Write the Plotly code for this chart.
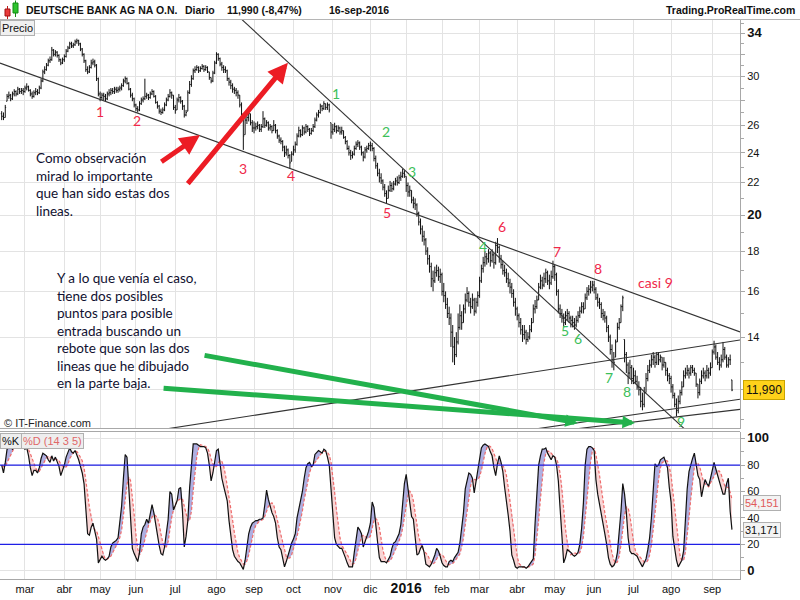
import math
import plotly.graph_objects as go

# ---------------- data ----------------
month_labels = ["feb", "mar", "abr", "may", "jun", "jul", "ago", "sep", "oct", "nov", "dic",
                "2016", "feb", "mar", "abr", "may", "jun", "jul", "ago", "sep"]

close_m = [
    [26.7, 26.6, 27.4, 28.3, 28.4, 28.1, 28.5, 28.7, 28.5, 28.9, 28.7, 28.8, 28.7],
    [29.0, 29.1, 28.8, 28.5, 28.3, 28.6, 28.7, 28.6, 29.0, 29.6, 30.4, 30.6, 31.0, 31.4, 31.5, 32.4, 32.0, 32.2, 31.9, 31.5, 31.2, 31.5],
    [31.8, 32.3, 32.6, 33.0, 32.8, 32.9, 33.2, 33.3, 33.0, 32.5, 32.0, 31.4, 30.6, 30.4, 30.8, 31.2, 31.3, 31.0, 29.8, 28.5],
    [28.2, 28.4, 28.3, 28.1, 28.5, 28.6, 28.8, 28.7, 28.9, 28.8, 28.9, 29.0, 29.2, 29.6, 29.8, 29.4, 28.9, 28.4, 28.1, 27.6],
    [27.3, 27.2, 27.7, 28.0, 28.1, 28.3, 28.4, 28.2, 28.5, 28.7, 28.3, 27.8, 27.5, 27.1, 27.0, 27.2, 27.6, 28.0, 28.3, 28.6, 28.4, 27.4],
    [27.2, 28.0, 28.2, 27.9, 27.5, 26.8, 27.0, 28.6, 29.3, 29.8, 30.5, 30.6, 30.8, 30.5, 30.7, 30.9, 30.6, 30.8, 30.4, 29.9, 29.6, 30.3, 31.2],
    [32.0, 31.6, 31.1, 30.8, 30.6, 30.5, 29.8, 29.5, 29.2, 28.9, 28.8, 28.6, 28.4, 27.6, 26.9, 25.2, 26.4, 26.6, 26.9, 26.2, 25.8],
    [25.8, 25.9, 26.0, 25.7, 25.9, 26.5, 26.0, 26.2, 25.8, 25.9, 25.6, 26.0, 25.6, 25.2, 24.9, 24.8, 24.4, 24.0, 24.2, 23.8, 23.3, 23.9],
    [24.2, 24.6, 25.2, 25.6, 25.3, 25.8, 25.5, 25.9, 25.7, 25.4, 25.6, 25.9, 26.4, 26.8, 27.0, 27.5, 27.3, 27.7, 27.4, 27.6, 27.2, 25.5],
    [25.7, 25.9, 25.6, 25.8, 25.5, 25.6, 25.1, 24.8, 24.3, 24.0, 23.8, 23.9, 24.3, 24.6, 24.7, 24.4, 24.0, 23.7, 24.2, 24.3, 24.5],
    [24.5, 24.3, 23.6, 23.1, 22.6, 22.3, 22.1, 21.7, 21.3, 21.0, 21.5, 21.8, 21.6, 21.9, 22.1, 22.0, 22.3, 22.4, 22.6, 22.5],
    [21.8, 21.4, 21.5, 20.9, 20.7, 20.6, 20.1, 19.6, 19.2, 18.8, 18.6, 18.0, 17.6, 17.2, 16.6, 16.5, 16.9, 17.0, 16.7, 16.8],
    [16.0, 15.8, 15.4, 15.0, 14.8, 14.2, 13.6, 13.3, 13.8, 14.4, 14.9, 14.6, 15.2, 15.6, 15.9, 15.5, 15.3, 15.6, 15.1, 15.5, 15.8],
    [16.5, 17.1, 17.4, 17.7, 17.6, 17.9, 17.5, 17.8, 17.4, 18.3, 18.2, 17.6, 17.3, 17.0, 16.9, 16.6, 16.4, 16.2, 15.9, 15.5, 15.2],
    [14.9, 14.6, 14.3, 14.1, 14.2, 13.9, 14.0, 14.3, 14.6, 15.2, 15.3, 15.6, 16.2, 16.5, 16.3, 16.6, 16.9, 16.5, 16.4, 16.7, 17.2],
    [16.8, 16.0, 15.2, 15.0, 14.8, 14.6, 14.9, 15.0, 14.8, 14.7, 14.6, 14.5, 14.7, 14.9, 15.1, 15.3, 15.2, 15.7, 16.0, 16.1, 16.2, 16.3],
    [16.1, 15.7, 15.5, 15.4, 15.0, 14.9, 14.8, 14.4, 14.0, 13.5, 13.1, 13.0, 13.8, 14.4, 14.6, 15.3, 15.7, 13.3, 12.9, 12.6, 12.8, 12.4],
    [12.5, 12.3, 12.1, 12.0, 11.6, 11.5, 11.9, 12.4, 12.7, 12.9, 13.1, 13.2, 13.0, 13.3, 13.1, 13.2, 12.9, 13.0, 12.7, 12.5, 12.4],
    [12.1, 11.8, 11.5, 11.3, 11.6, 11.9, 12.1, 12.5, 12.6, 12.7, 12.6, 12.8, 12.7, 12.6, 12.2, 11.9, 12.3, 12.5, 12.6, 12.5, 12.7, 12.6, 12.8],
    [13.4, 13.6, 13.2, 13.0, 12.9, 13.1, 13.5, 13.2, 12.9, 13.1, 13.1, 11.99],
]

high_m = [
    [27.1, 27.0, 27.6, 28.5, 28.7, 28.5, 28.7, 28.9, 28.8, 29.1, 29.0, 29.0, 29.0],
    [29.2, 29.4, 29.2, 28.9, 28.7, 28.8, 29.0, 28.9, 29.2, 29.8, 30.6, 30.9, 31.2, 31.6, 31.8, 32.7, 32.5, 32.4, 32.3, 32.0, 31.6, 31.7],
    [32.0, 32.5, 32.8, 33.2, 33.2, 33.1, 33.4, 33.5, 33.4, 33.1, 32.6, 32.1, 31.5, 30.9, 31.0, 31.5, 31.6, 31.5, 31.1, 29.9],
    [28.7, 28.6, 28.6, 28.5, 28.7, 28.9, 29.0, 29.0, 29.1, 29.1, 29.1, 29.2, 29.4, 29.8, 30.0, 29.9, 29.5, 29.0, 28.6, 28.2],
    [27.7, 27.5, 27.9, 28.2, 28.3, 29.8, 28.6, 28.5, 28.7, 28.9, 28.8, 28.4, 27.9, 27.6, 27.3, 27.4, 27.8, 28.2, 28.5, 28.9, 28.7, 28.4],
    [27.6, 28.2, 28.5, 28.3, 28.0, 27.6, 27.2, 28.8, 29.6, 30.1, 30.7, 30.9, 31.0, 30.9, 30.9, 31.1, 31.0, 31.0, 30.9, 30.4, 29.9, 30.5, 31.4],
    [32.2, 32.1, 31.7, 31.3, 31.0, 30.9, 30.6, 29.9, 29.7, 29.4, 29.1, 29.0, 28.8, 28.4, 27.8, 26.7, 26.8, 27.2, 27.1, 26.9, 26.4],
    [26.3, 26.2, 26.3, 26.1, 26.1, 27.1, 26.6, 26.4, 26.3, 26.1, 26.0, 26.4, 26.1, 25.7, 25.3, 25.1, 24.9, 24.5, 24.5, 24.3, 23.9, 24.1],
    [24.5, 24.8, 25.4, 25.9, 25.7, 26.0, 25.9, 26.1, 26.0, 25.8, 25.8, 26.1, 26.6, 27.0, 27.2, 27.7, 27.6, 27.9, 27.7, 27.8, 27.7, 26.2],
    [26.1, 26.2, 26.0, 26.0, 25.9, 25.9, 25.6, 25.2, 24.9, 24.5, 24.2, 24.1, 24.5, 24.8, 24.9, 24.8, 24.5, 24.1, 24.4, 24.5, 24.7],
    [24.8, 24.7, 24.4, 23.8, 23.3, 22.9, 22.6, 22.2, 21.9, 21.5, 21.8, 22.1, 22.0, 22.1, 22.3, 22.4, 22.5, 22.7, 22.9, 22.8],
    [22.4, 22.0, 21.8, 21.5, 21.1, 21.0, 20.7, 20.2, 19.8, 19.4, 19.1, 18.7, 18.2, 17.8, 17.4, 17.0, 17.2, 17.3, 17.2, 17.1],
    [16.9, 16.4, 16.0, 15.7, 15.3, 15.0, 14.5, 14.0, 14.2, 15.0, 15.4, 15.1, 15.4, 15.9, 16.2, 16.0, 15.7, 15.9, 15.7, 15.7, 16.0],
    [16.7, 17.3, 17.7, 18.0, 17.9, 18.1, 18.0, 18.1, 17.9, 18.5, 18.7, 18.3, 17.8, 17.5, 17.3, 17.1, 16.9, 16.6, 16.4, 16.1, 15.7],
    [15.3, 15.0, 14.8, 14.5, 14.5, 14.3, 14.2, 14.5, 14.8, 15.4, 15.6, 15.8, 16.4, 16.8, 16.7, 16.9, 17.1, 17.0, 16.8, 17.0, 17.5],
    [17.3, 16.9, 16.1, 15.4, 15.2, 15.0, 15.1, 15.2, 15.1, 14.9, 14.9, 14.8, 14.9, 15.1, 15.3, 15.5, 15.5, 15.9, 16.2, 16.3, 16.5, 16.5],
    [16.5, 16.2, 15.9, 15.7, 15.5, 15.2, 15.1, 14.9, 14.5, 14.1, 13.7, 13.4, 13.9, 14.6, 14.8, 15.4, 15.8, 13.9, 13.4, 13.0, 13.1, 12.9],
    [12.8, 12.7, 12.5, 12.3, 12.1, 11.9, 12.1, 12.6, 12.9, 13.1, 13.3, 13.4, 13.3, 13.4, 13.4, 13.3, 13.2, 13.2, 13.0, 12.8, 12.6],
    [12.5, 12.2, 11.9, 11.7, 11.8, 12.0, 12.3, 12.7, 12.8, 12.9, 12.8, 12.9, 12.9, 12.8, 12.6, 12.2, 12.4, 12.7, 12.8, 12.7, 12.9, 12.8, 13.0],
    [13.5, 13.85, 13.7, 13.4, 13.2, 13.3, 13.8, 13.6, 13.3, 13.2, 13.3, 12.35],
]

low_m = [
    [26.4, 26.4, 26.6, 27.9, 28.1, 27.9, 28.0, 28.3, 28.3, 28.4, 28.5, 28.5, 28.4],
    [28.6, 28.8, 28.7, 28.3, 28.1, 28.2, 28.4, 28.4, 28.5, 28.9, 29.5, 30.2, 30.5, 30.9, 31.2, 31.4, 31.8, 31.8, 31.7, 31.3, 31.0, 31.1],
    [31.3, 31.7, 32.2, 32.5, 32.6, 32.6, 32.8, 33.0, 32.8, 32.3, 31.8, 31.2, 30.4, 30.2, 30.3, 30.7, 31.0, 30.8, 29.6, 28.3],
    [27.9, 28.0, 28.0, 27.9, 28.0, 28.3, 28.4, 28.5, 28.5, 28.6, 28.6, 28.7, 28.8, 29.1, 29.4, 29.3, 28.8, 28.2, 27.9, 27.4],
    [27.1, 27.0, 27.1, 27.6, 27.8, 28.0, 28.1, 28.0, 28.1, 28.4, 28.2, 27.7, 27.3, 26.9, 26.8, 26.9, 27.1, 27.5, 27.9, 28.2, 28.1, 27.2],
    [26.9, 27.2, 27.8, 27.7, 27.2, 26.6, 26.7, 27.1, 28.5, 29.1, 29.7, 30.3, 30.5, 30.3, 30.4, 30.6, 30.4, 30.5, 30.3, 29.7, 29.4, 29.5, 30.2],
    [31.1, 31.4, 30.9, 30.5, 30.3, 30.3, 29.6, 29.2, 28.9, 28.6, 28.5, 28.3, 28.1, 27.4, 26.6, 24.2, 25.3, 26.1, 26.3, 26.0, 25.5],
    [25.4, 25.6, 25.7, 25.5, 25.5, 25.8, 25.8, 25.9, 25.6, 25.6, 25.4, 25.6, 25.4, 25.0, 24.7, 24.6, 24.1, 23.7, 23.8, 23.6, 22.9, 23.4],
    [23.8, 24.0, 24.5, 25.1, 25.1, 25.2, 25.3, 25.4, 25.5, 25.2, 25.3, 25.5, 25.8, 26.3, 26.6, 26.9, 27.1, 27.2, 27.2, 27.2, 27.0, 25.0],
    [25.3, 25.5, 25.4, 25.5, 25.3, 25.3, 25.0, 24.6, 24.2, 23.8, 23.5, 23.6, 23.8, 24.2, 24.4, 24.2, 23.8, 23.4, 23.6, 24.0, 24.2],
    [24.1, 24.1, 23.4, 22.9, 22.4, 22.0, 21.9, 21.5, 21.1, 20.7, 21.0, 21.4, 21.4, 21.5, 21.8, 21.8, 21.9, 22.1, 22.3, 22.3],
    [21.4, 21.1, 21.1, 20.7, 20.4, 20.3, 19.9, 19.4, 18.9, 18.5, 18.3, 17.8, 17.3, 16.9, 16.2, 16.0, 16.4, 16.7, 16.5, 16.4],
    [15.8, 15.5, 15.2, 14.8, 14.5, 13.6, 13.0, 12.9, 13.2, 13.7, 14.3, 14.3, 14.6, 15.0, 15.5, 15.3, 15.0, 15.2, 14.9, 15.0, 15.3],
    [15.7, 16.4, 16.9, 17.2, 17.3, 17.4, 17.2, 17.4, 17.1, 17.3, 17.9, 17.4, 17.1, 16.8, 16.7, 16.4, 16.2, 15.9, 15.7, 15.3, 14.9],
    [14.7, 14.4, 14.1, 13.8, 13.9, 13.7, 13.8, 13.9, 14.2, 14.6, 15.0, 15.2, 15.6, 16.1, 16.1, 16.2, 16.4, 16.3, 16.1, 16.3, 16.6],
    [16.5, 15.8, 15.0, 14.8, 14.6, 14.4, 14.5, 14.7, 14.6, 14.4, 14.4, 14.3, 14.4, 14.6, 14.8, 15.0, 15.0, 15.2, 15.6, 15.8, 15.9, 16.0],
    [15.9, 15.6, 15.3, 15.2, 14.8, 14.7, 14.6, 14.2, 13.8, 13.3, 12.8, 12.7, 13.2, 13.8, 14.3, 14.6, 15.1, 13.0, 12.6, 12.2, 12.4, 12.2],
    [12.2, 12.2, 12.0, 11.8, 11.4, 11.3, 11.4, 11.9, 12.3, 12.6, 12.8, 12.9, 12.8, 12.9, 12.9, 13.0, 12.7, 12.8, 12.5, 12.3, 12.2],
    [11.9, 11.7, 11.4, 11.1, 11.2, 11.5, 11.8, 12.1, 12.4, 12.5, 12.4, 12.5, 12.6, 12.5, 12.1, 11.7, 11.8, 12.2, 12.4, 12.3, 12.4, 12.4, 12.5],
    [12.8, 13.3, 13.1, 12.9, 12.7, 12.8, 13.0, 13.1, 12.8, 12.8, 12.9, 11.95],
]
first_open = 26.9

stoch_k = [
    80, 74, 82, 92, 93, 94, 92, 94, 95, 95,
    94, 93, 93, 92, 93, 87, 78, 72, 76, 76,
    74, 78, 85, 89, 88, 87, 84, 82, 87, 83,
    86, 83, 79, 72, 76, 80, 86, 89, 93, 90,
    89, 91, 88, 84, 79, 74, 66, 45, 28, 27,
    33, 36, 31, 24, 6, 8, 11, 9, 8, 9,
    11, 18, 21, 22, 23, 25, 35, 49, 70, 88,
    86, 62, 35, 17, 13, 10, 7, 14, 28, 33,
    35, 39, 36, 43, 50, 44, 35, 28, 19, 13,
    12, 18, 28, 39, 60, 58, 46, 49, 53, 62,
    63, 45, 18, 26, 38, 63, 80, 96, 96, 96,
    95, 94, 94, 94, 93, 89, 80, 68, 74, 82,
    91, 92, 79, 70, 64, 59, 53, 38, 26, 16,
    11, 9, 7, 6, 3, 1, 8, 20, 28, 33,
    36, 37, 38, 38, 39, 39, 40, 50, 61, 54,
    48, 44, 41, 36, 25, 18, 16, 10, 3, 7,
    12, 17, 21, 24, 28, 40, 46, 52, 60, 70,
    78, 81, 82, 79, 80, 88, 90, 91, 90, 89,
    92, 91, 86, 80, 62, 45, 25, 20, 18, 17,
    17, 14, 10, 6, 3, 3, 3, 14, 24, 33,
    31, 28, 18, 22, 25, 30, 36, 52, 48, 32,
    22, 10, 7, 7, 7, 6, 8, 11, 17, 21,
    22, 25, 28, 35, 50, 66, 73, 62, 50, 41,
    39, 25, 12, 13, 17, 19, 14, 5, 4, 3,
    5, 8, 12, 17, 15, 11, 6, 4, 3, 3,
    7, 8, 7, 10, 12, 14, 21, 33, 44, 62,
    68, 74, 73, 70, 59, 68, 74, 85, 93, 95,
    96, 95, 94, 90, 87, 78, 72, 81, 87, 82,
    75, 63, 54, 42, 30, 12, 8, 3, 2, 3,
    3, 3, 3, 2, 3, 5, 7, 9, 36, 60,
    80, 87, 92, 92, 93, 89, 86, 84, 87, 86,
    80, 68, 47, 28, 6, 10, 16, 15, 14, 12,
    11, 12, 14, 20, 32, 51, 80, 92, 94, 94,
    93, 91, 69, 58, 51, 44, 37, 28, 20, 10,
    5, 3, 4, 7, 14, 28, 45, 66, 58, 44,
    25, 15, 13, 13, 12, 11, 8, 5, 3, 6,
    9, 16, 25, 40, 65, 81, 79, 80, 84, 85,
    86, 82, 78, 63, 52, 26, 15, 8, 3, 5,
    8, 15, 40, 62, 75, 81, 85, 89, 79, 72,
    69, 56, 63, 69, 66, 64, 70, 77, 82, 77,
    72, 69, 64, 58, 58, 66, 70, 45, 31.171,
]

stoch_d = [
    80, 79, 79, 82, 84.2, 87, 90.6, 93, 93.6, 94,
    94, 94.2, 94, 93.4, 93, 91.6, 88.6, 84.4, 81.2, 77.8,
    75.2, 75.2, 77.8, 80.4, 82.8, 85.4, 86.6, 86, 85.6, 84.6,
    84.4, 84.2, 83.6, 80.6, 79.2, 78, 78.6, 80.6, 84.8, 87.6,
    89.4, 90.4, 90.2, 88.4, 86.2, 83.2, 78.2, 69.6, 58.4, 48,
    39.8, 33.8, 31, 30.2, 26, 21, 16, 11.6, 8.4, 9,
    9.6, 11, 13.4, 16.2, 19, 21.8, 25.2, 30.8, 40.4, 53.4,
    65.6, 71, 68.2, 57.6, 42.6, 27.4, 16.4, 12.2, 14.4, 18.4,
    23.4, 29.8, 34.2, 37.2, 40.6, 42.4, 41.6, 40, 35.2, 27.8,
    21.4, 18, 18, 22, 31.4, 40.6, 46.2, 50.4, 53.2, 53.6,
    54.6, 54.4, 48.2, 42.8, 38, 38, 45, 60.6, 74.6, 86.2,
    92.6, 95.4, 95, 94.6, 94, 92.8, 90, 84.8, 80.8, 78.6,
    79, 81.4, 83.6, 82.8, 79.2, 72.8, 65, 56.8, 48, 38.4,
    28.8, 20, 13.8, 9.8, 7.2, 5.2, 5, 7.6, 12, 18,
    25, 30.8, 34.4, 36.4, 37.6, 38.2, 38.8, 41.2, 45.8, 48.8,
    50.6, 51.4, 49.6, 44.6, 38.8, 32.8, 27.2, 21, 14.4, 10.8,
    9.6, 9.8, 12, 16.2, 20.4, 26, 31.8, 38, 45.2, 53.6,
    61.2, 68.2, 74.2, 78, 80, 82, 83.8, 85.6, 87.8, 89.6,
    90.4, 90.6, 89.6, 87.6, 82.2, 72.8, 59.6, 46.4, 34, 25,
    19.4, 17.2, 15.2, 12.8, 10, 7.2, 5, 5.8, 9.4, 15.4,
    21, 26, 26.8, 26.4, 24.8, 24.6, 26.2, 33, 38.2, 39.6,
    38, 32.8, 23.8, 15.6, 10.6, 7.4, 7, 7.8, 9.8, 12.6,
    15.8, 19.2, 22.6, 26.2, 32, 40.8, 50.4, 57.2, 60.2, 58.4,
    53, 43.4, 33.4, 26, 21.2, 17.2, 15, 13.6, 11.8, 9,
    6.2, 5, 6.4, 9, 11.4, 12.6, 12.2, 10.6, 7.8, 5.4,
    4.6, 5, 5.6, 7, 8.8, 10.2, 12.8, 18, 24.8, 34.8,
    45.6, 56.2, 64.2, 69.4, 68.8, 68.8, 68.8, 71.2, 75.8, 83,
    88.6, 92.8, 94.6, 94, 92.4, 88.8, 84.2, 81.6, 81, 80,
    79.4, 77.6, 72.2, 63.2, 52.8, 40.2, 29.2, 19, 11, 5.6,
    3.8, 2.8, 2.8, 2.8, 2.8, 3.2, 4, 5.2, 12, 23.4,
    38.4, 54.4, 71, 82.2, 88.8, 90.6, 90.4, 88.8, 87.8, 86.4,
    84.6, 81, 73.6, 61.8, 45.8, 31.8, 21.4, 15, 12.2, 13.4,
    13.6, 12.8, 12.6, 13.8, 17.8, 25.8, 39.4, 55, 69.8, 82.2,
    90.6, 92.8, 88.2, 81, 72.4, 62.6, 51.8, 43.6, 36, 27.8,
    20, 13.2, 8.4, 5.8, 6.6, 11.2, 19.6, 32, 42.2, 48.2,
    47.6, 41.6, 31, 22, 15.6, 12.8, 11.4, 9.8, 7.8, 6.6,
    6.2, 7.8, 11.8, 19.2, 31, 45.4, 58, 69, 77.8, 81.8,
    82.8, 83.4, 83, 78.8, 72.2, 60.2, 46.8, 32.8, 20.8, 11.4,
    7.8, 7.8, 14.2, 26, 40, 54.6, 68.6, 78.4, 81.8, 81.2,
    78.8, 73, 67.8, 65.8, 64.6, 63.6, 66.4, 69.2, 71.8, 74,
    75.6, 75.4, 72.8, 68, 64.2, 63, 63.2, 59.4, 54.151,
]

# analyst drawings, in (trading-day index, price)
trend_lines = [
    [(-0.95, 31.19), (412.5, 14.21)],
    [(130.9, 36.0), (385.4, 10.5)],
    [(68.6, 10.5), (412.5, 13.88)],
    [(273.4, 10.5), (412.5, 11.67)],
    [(290.1, 10.5), (412.5, 11.33)],
]
red_arrows = [[(88.4, 23.30), (110.8, 25.27)], [(103.3, 21.83), (159.9, 31.22)]]
green_arrows = [[(112.5, 13.28), (321.9, 10.89)], [(89.6, 12.06), (353.8, 10.89)]]
red_labels = [("1", 54.9, 27.11), ("2", 75.6, 26.40), ("3", 134.8, 22.95), ("4", 161.6, 22.48),
              ("5", 215.3, 20.18), ("6", 279.5, 19.37), ("7", 310.2, 18.0), ("8", 333.1, 17.13),
              ("casi 9", 365.5, 16.40)]
green_labels = [("1", 186.8, 28.57), ("2", 214.7, 25.57), ("3", 229.2, 22.75), ("4", 268.9, 18.27),
                ("5", 314.7, 14.25), ("6", 321.9, 13.96), ("7", 339.3, 12.45), ("8", 349.3, 11.95),
                ("9", 379.5, 10.95)]
note_1 = ["Como observación", "mirad lo importante", "que han sido estas dos", "lineas."]
note_2 = ["Y a lo que venía el caso,", "tiene dos posibles", "puntos para posible",
          "entrada buscando un", "rebote que son las dos", "lineas que he dibujado",
          "en la parte baja."]

price_tickvals = [12, 14, 16, 18, 20, 22, 24, 26, 28, 30, 32, 34]
price_ticklabels = ["", "14", "16", "18", "20*", "22", "24", "26", "", "30", "", "34*"]
stoch_tickvals = [0, 20, 40, 60, 80, 100]
stoch_ticklabels = ["0*", "20", "40", "60", "80", "100*"]

# ---------------- build ----------------
close = [v for m in close_m for v in m]
high = [v for m in high_m for v in m]
low = [v for m in low_m for v in m]
n = len(close)
idx = list(range(n))
opn = []
for i in range(n):
    p = first_open if i == 0 else close[i - 1]
    opn.append(min(max(p, low[i]), high[i]))

month_start = []
s = 0
for m in close_m:
    month_start.append(s)
    s += len(m)

k = stoch_k[:n]
d = stoch_d[:n]

TOP, BOTTOM, WPLOT = 20, 579, 740


def py(y):
    return (BOTTOM - y) / (BOTTOM - TOP)


def px(x):
    return x / WPLOT


def big(t):
    if t.endswith("*"):
        return "<span style='font-size:13px'><b>" + t[:-1] + "</b></span>"
    return t


FONT = "Liberation Sans"
fig = go.Figure()

fig.add_trace(go.Ohlc(x=idx, open=opn, high=high, low=low, close=close,
                      increasing=dict(line=dict(color="#111111", width=1)),
                      decreasing=dict(line=dict(color="#111111", width=1)),
                      tickwidth=0.5, xaxis="x", yaxis="y", hoverinfo="skip", showlegend=False))

for (x0, y0), (x1, y1) in trend_lines:
    fig.add_trace(go.Scatter(x=[x0, x1], y=[y0, y1], mode="lines",
                             line=dict(color="#333333", width=1.1),
                             xaxis="x", yaxis="y", hoverinfo="skip", showlegend=False))

# stochastic fills
kmax = [max(a, b) for a, b in zip(k, d)]
kmin = [min(a, b) for a, b in zip(k, d)]
common = dict(xaxis="x2", yaxis="y2", mode="lines", hoverinfo="skip", showlegend=False)
fig.add_trace(go.Scatter(x=idx, y=d, line=dict(width=0), **common))
fig.add_trace(go.Scatter(x=idx, y=kmax, line=dict(width=0), fill="tonexty",
                         fillcolor="rgba(110,110,200,0.55)", **common))
fig.add_trace(go.Scatter(x=idx, y=d, line=dict(width=0), **common))
fig.add_trace(go.Scatter(x=idx, y=kmin, line=dict(width=0), fill="tonexty",
                         fillcolor="rgba(240,150,150,0.40)", **common))
fig.add_trace(go.Scatter(x=idx, y=d, line=dict(color="#ee6b6b", width=1.2, dash="3px,2px"), **common))
fig.add_trace(go.Scatter(x=idx, y=k, line=dict(color="#111111", width=1.2), **common))

xtickvals = month_start[1:]
xticktext = [("<span style='font-size:14px'><b>" + t + "</b></span>") if t == "2016" else t
             for t in month_labels[1:]]

grid = "#e3e3e3"
axcol = "#a8a8a8"
fig.update_layout(
    width=800, height=600,
    margin=dict(l=0, r=60, t=20, b=21),
    paper_bgcolor="white", plot_bgcolor="white", showlegend=False,
    font=dict(family=FONT, size=11, color="#111111"),
    xaxis=dict(domain=[0, 1], anchor="y", range=[-0.95, 412.5], tickvals=xtickvals,
               showticklabels=False, showgrid=True, gridcolor=grid, zeroline=False,
               showline=True, linecolor=axcol, rangeslider=dict(visible=False), ticks=""),
    yaxis=dict(domain=[py(428), 1], anchor="x", type="log",
               range=[math.log10(10.73), math.log10(35.38)], side="right",
               tickvals=price_tickvals, ticktext=[big(t) for t in price_ticklabels],
               tickfont=dict(size=11, family=FONT), showgrid=True, gridcolor=grid,
               ticks="outside", ticklen=4, tickcolor=axcol, showline=True, linecolor=axcol,
               zeroline=False,
               minor=dict(tickvals=list(range(11, 36, 2)), ticks="outside", ticklen=3,
                          tickcolor=axcol, showgrid=False)),
    xaxis2=dict(domain=[0, 1], anchor="y2", matches="x", range=[-0.95, 412.5],
                tickvals=xtickvals, ticktext=xticktext, tickfont=dict(size=11, family=FONT),
                showgrid=True, gridcolor=grid, zeroline=False, showline=True, linecolor=axcol,
                ticks="", rangeslider=dict(visible=False)),
    yaxis2=dict(domain=[0, py(432)], anchor="x2", range=[-6.2, 105], side="right",
                tickvals=stoch_tickvals, ticktext=[big(t) for t in stoch_ticklabels],
                tickfont=dict(size=11, family=FONT), showgrid=True, gridcolor=grid,
                ticks="outside", ticklen=4, tickcolor=axcol, showline=True, linecolor=axcol,
                zeroline=False,
                minor=dict(tickvals=[10, 30, 50, 70, 90], ticks="outside", ticklen=3,
                           tickcolor=axcol, showgrid=False)),
)

shapes = []
for lvl in (20, 80):
    shapes.append(dict(type="line", xref="paper", x0=0, x1=1, yref="y2", y0=lvl, y1=lvl,
                       line=dict(color="#1f1fe6", width=1.2)))
shapes.append(dict(type="line", xref="paper", x0=0, x1=800 / WPLOT, yref="paper",
                   y0=py(19.5), y1=py(19.5), line=dict(color="#b5b5b5", width=1)))
shapes.append(dict(type="line", xref="paper", x0=0, x1=1, yref="paper",
                   y0=py(431.5), y1=py(431.5), line=dict(color=axcol, width=1)))
# small candle icon in the header
shapes += [
    dict(type="line", xref="paper", yref="paper", x0=px(7.5), x1=px(7.5), y0=py(6), y1=py(19),
         line=dict(color="#c01818", width=1)),
    dict(type="rect", xref="paper", yref="paper", x0=px(5), x1=px(10), y0=py(9), y1=py(16),
         fillcolor="#e83a3a", line=dict(color="#a01010", width=1)),
    dict(type="line", xref="paper", yref="paper", x0=px(15.5), x1=px(15.5), y0=py(0.5), y1=py(17),
         line=dict(color="#128a12", width=1)),
    dict(type="rect", xref="paper", yref="paper", x0=px(13), x1=px(18), y0=py(3), y1=py(13),
         fillcolor="#2ec42e", line=dict(color="#128a12", width=1)),
]
fig.update_layout(shapes=shapes)

ann = []
# header
HDR_FONT = dict(family=FONT, size=10.5, color="#111111")
hdr = [("DEUTSCHE BANK AG NA O.N.", 24), ("Diario", 183), ("11,990 (-8,47%)", 225), ("16-sep-2016", 327)]
for t, x in hdr:
    ann.append(dict(text="<b>" + t + "</b>", xref="paper", yref="paper", x=px(x), y=py(10),
                    xanchor="left", yanchor="middle", showarrow=False, font=HDR_FONT))
ann.append(dict(text="<b>Trading.ProRealTime.com</b>", xref="paper", yref="paper", x=px(797),
                y=py(10), xanchor="right", yanchor="middle", showarrow=False, font=HDR_FONT))
ann.append(dict(text="Precio", xref="paper", yref="paper", x=0, y=py(20.5), xanchor="left",
                yanchor="top", showarrow=False, bgcolor="#f0f0f0", bordercolor="#b0b0b0",
                borderwidth=1, borderpad=1, font=dict(family=FONT, size=11, color="#111111")))
ann.append(dict(text="%K", xref="paper", yref="paper", x=0, y=py(432.5), xanchor="left",
                yanchor="top", showarrow=False, bgcolor="#eeeeee", bordercolor="#b0b0b0",
                borderwidth=1, borderpad=1, font=dict(family=FONT, size=11, color="#111111")))
ann.append(dict(text="%D (14 3 5)", xref="paper", yref="paper", x=px(21), y=py(432.5),
                xanchor="left", yanchor="top", showarrow=False, bgcolor="#eeeeee",
                bordercolor="#b0b0b0", borderwidth=1, borderpad=1,
                font=dict(family=FONT, size=11, color="#e06868")))
ann.append(dict(text="© IT-Finance.com", xref="paper", yref="paper", x=px(2), y=py(423),
                xanchor="left", yanchor="middle", showarrow=False,
                font=dict(family=FONT, size=11, color="#222222")))
# value boxes
ann.append(dict(text="11,990", xref="paper", x=1, xshift=3, xanchor="left", yref="y",
                y=math.log10(close[-1]), showarrow=False, bgcolor="#ffd21a", bordercolor="#c9a400",
                borderwidth=1, borderpad=2, font=dict(family=FONT, size=12, color="#111111")))
ann.append(dict(text="54,151", xref="paper", x=1, xshift=3, yshift=-4, xanchor="left", yref="y2",
                y=d[-1], showarrow=False, bgcolor="#f3f3f3", bordercolor="#b0b0b0",
                borderwidth=1, borderpad=1, font=dict(family=FONT, size=11, color="#e05a5a")))
ann.append(dict(text="31,171", xref="paper", x=1, xshift=3, xanchor="left", yref="y2",
                y=k[-1], showarrow=False, bgcolor="#f3f3f3", bordercolor="#b0b0b0",
                borderwidth=1, borderpad=1, font=dict(family=FONT, size=11, color="#111111")))
# notes
NOTE_FONT = dict(family="Lato", size=13.5, color="#101030")
ann.append(dict(text="<br>".join(note_1), xref="paper", yref="paper", x=px(34), y=py(148),
                xanchor="left", yanchor="top", align="left", showarrow=False, font=NOTE_FONT))
ann.append(dict(text="<br>".join(note_2), xref="paper", yref="paper", x=px(55), y=py(268),
                xanchor="left", yanchor="top", align="left", showarrow=False, font=NOTE_FONT))
for t, xi, p in red_labels:
    ann.append(dict(text=t, x=xi, y=math.log10(p), xref="x", yref="y", showarrow=False,
                    font=dict(family="Lato", size=14, color="#f0284a")))
for t, xi, p in green_labels:
    ann.append(dict(text=t, x=xi, y=math.log10(p), xref="x", yref="y", showarrow=False,
                    font=dict(family="Lato", size=14, color="#3cbf5a")))
for (tx, tp), (hx, hp) in red_arrows:
    ann.append(dict(x=hx, y=math.log10(hp), ax=tx, ay=math.log10(tp), xref="x", yref="y",
                    axref="x", ayref="y", showarrow=True, arrowhead=2, arrowsize=0.8,
                    arrowwidth=5, arrowcolor="#ec1c24", text=""))
for (tx, tp), (hx, hp) in green_arrows:
    ann.append(dict(x=hx, y=math.log10(hp), ax=tx, ay=math.log10(tp), xref="x", yref="y",
                    axref="x", ayref="y", showarrow=True, arrowhead=2, arrowsize=0.5,
                    arrowwidth=5, arrowcolor="#22b14c", text=""))
fig.update_layout(annotations=ann)

fig.write_html("out.html", config={"displayModeBar": False},
               post_script="document.body.style.margin='0';document.body.style.overflow='hidden';")
